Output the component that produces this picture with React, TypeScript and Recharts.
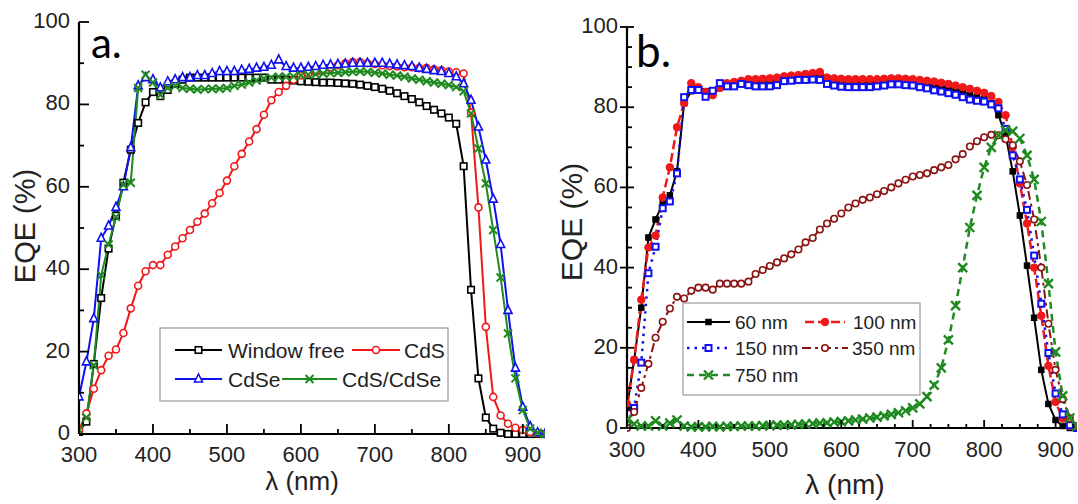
import { LineChart, Line, XAxis, YAxis } from 'recharts'

const wavelengths = [
  300, 310, 320, 330, 340, 350, 360, 370, 380, 390,
  400, 410, 420, 430, 440, 450, 460, 470, 480, 490,
  500, 510, 520, 530, 540, 550, 560, 570, 580, 590,
  600, 610, 620, 630, 640, 650, 660, 670, 680, 690,
  700, 710, 720, 730, 740, 750, 760, 770, 780, 790,
  800, 810, 820, 830, 840, 850, 860, 870, 880, 890,
  900, 910, 920, 930,
]

// panel a
const windowFree = [
  0.5, 3, 17, 33, 45, 53, 61, 69, 75.5, 80.5,
  83, 82, 83.5, 85, 86, 86.5, 86.5, 86.5, 86.5, 86.5,
  86.5, 86.5, 86.5, 86.5, 86.5, 86.5, 86, 86, 86, 85.8,
  85.6, 85.5, 85.4, 85.3, 85.3, 85.2, 85.1, 85, 84.8, 84.5,
  84.2, 83.8, 83.3, 82.7, 82, 81.3, 80.5, 79.6, 78.7, 77.8,
  76.8, 75.3, 65, 35, 13.5, 4, 1.3, 0.3, 0, 0,
  0, 0, 0, 0,
]
const cds = [
  1, 5, 11, 15.5, 19, 20.5, 24.5, 30.5, 36, 39.5,
  41, 41, 43.5, 45.5, 47.5, 49.5, 51.5, 53.5, 56, 58.5,
  61.5, 65, 68, 71, 74, 77.5, 81, 83, 84.5, 86,
  87, 87.5, 88, 88.5, 89, 89.5, 90, 90.3, 90.3, 90,
  89.8, 89.5, 89.3, 89.2, 89, 89, 88.8, 88.8, 88.5, 88.3,
  88, 87.8, 87.5, 78, 55, 26, 9, 4.5, 2.5, 1.5,
  1, 0.5, 0.2, 0,
]
const cdse = [
  9, 17.5, 28, 47.5, 50.5, 55, 60, 69.5, 84.5, 86.5,
  86, 84, 85.5, 86, 86.5, 86.5, 87, 87, 87.5, 88,
  88, 88, 88.3, 88.5, 88.8, 89, 89.5, 90.8, 89.2, 88.8,
  88.8, 89, 89.2, 89.5, 89.6, 89.7, 89.8, 90, 90, 90,
  90, 90, 89.8, 89.6, 89.4, 89.2, 88.8, 88.5, 88.2, 88,
  87.5, 86.7, 85, 81, 74.5, 66.5, 57, 46, 30, 16,
  6.5, 1.8, 0.3, 0,
]
const cdsCdse = [
  1, 4, 16.7, 38.5, 46, 52.7, 60.5, 61, 84, 87.2,
  85.3, 82.3, 84, 84.5, 84, 83.8, 83.6, 83.7, 83.8, 83.8,
  84, 84.5, 84.8, 85.3, 85.8, 86.3, 86.5, 86.7, 86.7, 86.8,
  87, 87.2, 87.3, 87.5, 87.6, 87.7, 87.8, 87.9, 88, 87.9,
  87.7, 87.5, 87.2, 87, 86.7, 86.3, 86, 85.6, 85.3, 85,
  84.7, 84.2, 83.2, 77.8, 69.3, 60.8, 49.5, 38, 24.4, 13.5,
  5.8, 1.3, 0.3, 0,
]

// panel b
const nm60 = [
  5, 17, 30, 47.5, 52, 56, 58, 64, 81, 84,
  84.5, 84, 84, 85, 85.5, 85.5, 86, 86.3, 86.5, 86.5,
  86.7, 86.8, 87, 87.2, 87.4, 87.6, 87.8, 88, 87, 86.8,
  86.7, 86.6, 86.5, 86.4, 86.3, 86.3, 86.2, 86.3, 86.5, 86.4,
  86.2, 86, 85.8, 85.5, 85.2, 84.8, 84.3, 83.8, 83.2, 82.6,
  82, 81, 78, 73, 64, 53, 40.5, 27.5, 14.5, 6,
  2, 0.5, 0, 0,
]
const nm100 = [
  6, 17, 32, 45, 48, 57.5, 65, 75, 81, 86,
  85, 83.8, 83, 84.8, 86, 86.3, 86.6, 87, 87, 87.1,
  87.2, 87.4, 87.7, 87.9, 88, 88.3, 88.5, 88.8, 87.4, 87.2,
  87.1, 87, 87, 87, 87, 87, 87.1, 87.2, 87.2, 87.1,
  87, 86.8, 86.6, 86.4, 86.1, 85.8, 85.4, 85, 84.6, 84.1,
  83.6, 82.8, 81.3, 78, 70, 61, 51, 40, 28, 15.5,
  6.5, 2.4, 0.5, 0,
]
const nm150 = [
  1, 5, 16.3, 38.6, 45.2, 54.8, 56.5, 63.5, 82.5, 84.3,
  84.3, 82.6, 84.1, 86, 85.2, 85.2, 85.8, 85.5, 85.2, 85.2,
  85.2, 85.5, 86.5, 86.6, 86.8, 86.8, 86.9, 86.8, 85.8, 85.4,
  85.1, 85, 85, 85, 85, 85.2, 85.4, 85.7, 85.7, 85.5,
  85.4, 85, 84.7, 84.2, 83.9, 83.5, 83.1, 82.5, 81.9, 81.6,
  81.4, 80.7, 79.7, 74.6, 68, 62, 54.4, 43, 31, 18.7,
  8.6, 3.4, 0.7, 0,
]
const nm350 = [
  0, 4, 10, 16, 22.5, 26.5, 29.8, 32.7, 32.3, 34.2,
  35, 35, 34.5, 36, 36, 36, 36, 36.5, 38.4, 39.4,
  40.4, 41.3, 42.3, 43.3, 44.5, 46.3, 47.4, 49.5, 51, 52.2,
  53.5, 55, 56, 56.9, 57.5, 58.3, 59.1, 60, 61, 61.9,
  62.7, 63.1, 63.5, 64.3, 65, 65.6, 67, 68.3, 70.2, 71.5,
  72.5, 73.1, 73, 72, 70.5, 66.5, 60.6, 52, 40, 26,
  14.5, 7.2, 2.4, 0.5,
]
const nm750 = [
  2, 1, 0.5, 0.5, 1.8, 0.5, 1.2, 2, 0.5, 0.3,
  0.3, 0.3, 0.4, 0.3, 0.4, 0.4, 0.5, 0.5, 0.5, 0.6,
  0.6, 0.7, 0.7, 0.8, 0.9, 1, 1.1, 1.2, 1.3, 1.5,
  1.6, 1.8, 2, 2.2, 2.5, 2.7, 3, 3.4, 3.8, 4.3,
  5, 6, 7.8, 10.7, 15, 22, 30.5, 40, 50, 58,
  65, 70, 73, 74.3, 74, 72.2, 68, 62, 51.5, 36,
  19, 8, 2.5, 0.5,
]

const ticksXA = [300, 350, 400, 450, 500, 550, 600, 650, 700, 750, 800, 850, 900]
const ticksYA = [0, 10, 20, 30, 40, 50, 60, 70, 80, 90, 100]
const ticksXB = [300, 325, 350, 375, 400, 425, 450, 475, 500, 525, 550, 575, 600, 625, 650, 675, 700, 725, 750, 775, 800, 825, 850, 875, 900, 925]
const ticksYB = [0, 5, 10, 15, 20, 25, 30, 35, 40, 45, 50, 55, 60, 65, 70, 75, 80, 85, 90, 95, 100]

const dataA = wavelengths.map((w, i) => ({ w, free: windowFree[i], cds: cds[i], cdse: cdse[i], both: cdsCdse[i] }))
const dataB = wavelengths.map((w, i) => ({ w, a: nm60[i], b: nm100[i], c: nm150[i], d: nm350[i], e: nm750[i] }))

const FONT = '"Liberation Sans", Arial, sans-serif'
const RED = '#f01818'
const BLUE = '#1010f0'
const GREEN = '#1f8a1f'
const DARKRED = '#8a1414'

type Kind = 'square' | 'circle' | 'triangle' | 'cross'

function marker(kind: Kind, cx: number, cy: number, size: number, color: string, filled: boolean, sw: number) {
  const h = size / 2
  const fill = filled ? color : '#fff'
  if (kind === 'square') return <rect x={cx - h} y={cy - h} width={size} height={size} fill={fill} stroke={color} strokeWidth={sw} />
  if (kind === 'circle') return <circle cx={cx} cy={cy} r={h} fill={fill} stroke={color} strokeWidth={sw} />
  if (kind === 'triangle')
    return <polygon points={`${cx},${cy - h - 1} ${cx - h},${cy + h - 1} ${cx + h},${cy + h - 1}`} fill={fill} stroke={color} strokeWidth={sw} />
  return (
    <g stroke={color} strokeWidth={sw}>
      <line x1={cx - h} y1={cy - h} x2={cx + h} y2={cy + h} />
      <line x1={cx - h} y1={cy + h} x2={cx + h} y2={cy - h} />
    </g>
  )
}

function dot(kind: Kind, size: number, color: string, filled: boolean, sw: number) {
  return (props: any) => {
    const { cx, cy, index } = props
    if (cx == null || cy == null) return <g key={`e-${index}`} />
    return <g key={`d-${index}`}>{marker(kind, cx, cy, size, color, filled, sw)}</g>
  }
}

// inward ticks drawn by hand, labels only on the major ones
function tickBottom(major: number, big: number, small: number, dy: number) {
  return (props: any) => {
    const { x, y, payload } = props
    const isMajor = payload.value % major === 0
    return (
      <g>
        <line x1={x} x2={x} y1={y} y2={y - (isMajor ? big : small)} stroke="#000" strokeWidth={1.8} />
        {isMajor && (
          <text x={x} y={y + dy} textAnchor="middle" fontSize={22} fill="#222" fontFamily={FONT}>{payload.value}</text>
        )}
      </g>
    )
  }
}
function tickTop(major: number, big: number, small: number) {
  return (props: any) => {
    const { x, y, payload } = props
    const isMajor = payload.value % major === 0
    return <line x1={x} x2={x} y1={y} y2={y + (isMajor ? big : small)} stroke="#000" strokeWidth={1.8} />
  }
}
function tickLeft(major: number, big: number, small: number, out: number) {
  return (props: any) => {
    const { x, y, payload } = props
    const isMajor = payload.value % major === 0
    return (
      <g>
        <line x1={x - (isMajor ? out : 0)} x2={x + (isMajor ? big : small)} y1={y} y2={y} stroke="#000" strokeWidth={1.8} />
        {isMajor && (
          <text x={x - 9} y={y + 6} textAnchor="end" fontSize={22} fill="#222" fontFamily={FONT}>{payload.value}</text>
        )}
      </g>
    )
  }
}
function tickRight(major: number, big: number, small: number) {
  return (props: any) => {
    const { x, y, payload } = props
    const isMajor = payload.value % major === 0
    return <line x1={x} x2={x - (isMajor ? big : small)} y1={y} y2={y} stroke="#000" strokeWidth={1.8} />
  }
}

const axisLine = { stroke: '#000', strokeWidth: 2.2 }

function LegendRow({ x1, x2, y, kind, size, color, filled, sw, dash, lw, text, tx, fs }: any) {
  return (
    <g>
      <line x1={x1} x2={x2} y1={y} y2={y} stroke={color} strokeWidth={lw} strokeDasharray={dash} />
      {marker(kind, (x1 + x2) / 2, y, size, color, filled, sw)}
      <text x={tx} y={y + fs * 0.36} fontSize={fs} fill="#222" fontFamily={FONT}>{text}</text>
    </g>
  )
}

export default function App() {
  return (
    <div style={{ position: 'absolute', left: 0, top: 0, width: 1078, height: 504, background: '#fff', overflow: 'hidden' }}>
      <div style={{ position: 'absolute', left: 0, top: 0 }}>
        <LineChart width={560} height={504} data={dataA} margin={{ top: 22, right: 15, left: 0, bottom: 0 }}>
          <XAxis dataKey="w" type="number" domain={[300, 930]} ticks={ticksXA} interval={0} allowDataOverflow
            height={70} tickSize={0} tickMargin={0} tickLine={false} axisLine={axisLine} tick={tickBottom(100, 10, 5, 28)} />
          <XAxis xAxisId="top" orientation="top" dataKey="w" type="number" domain={[300, 930]} ticks={ticksXA} interval={0}
            height={0} tickSize={0} tickMargin={0} tickLine={false} axisLine={axisLine} tick={tickTop(100, 10, 5)} />
          <YAxis type="number" domain={[0, 100]} ticks={ticksYA} interval={0} width={79}
            tickSize={0} tickMargin={0} tickLine={false} axisLine={axisLine} tick={tickLeft(20, 10, 5, 0)} />
          <YAxis yAxisId="right" orientation="right" type="number" domain={[0, 100]} ticks={ticksYA} interval={0} width={0}
            tickSize={0} tickMargin={0} tickLine={false} axisLine={axisLine} tick={tickRight(20, 10, 5)} />
          <Line dataKey="free" type="linear" stroke="#000" strokeWidth={2} dot={dot('square', 6.5, '#000', false, 1.6)} isAnimationActive={false} />
          <Line dataKey="cds" type="linear" stroke={RED} strokeWidth={2} dot={dot('circle', 7, RED, false, 1.6)} isAnimationActive={false} />
          <Line dataKey="cdse" type="linear" stroke={BLUE} strokeWidth={2} dot={dot('triangle', 8, BLUE, false, 1.6)} isAnimationActive={false} />
          <Line dataKey="both" type="linear" stroke={GREEN} strokeWidth={2} dot={dot('cross', 8, GREEN, false, 2)} isAnimationActive={false} />
        </LineChart>
      </div>
      <div style={{ position: 'absolute', left: 550, top: 0 }}>
        <LineChart width={528} height={504} data={dataB} margin={{ top: 27, right: 1, left: 0, bottom: 0 }}>
          <XAxis dataKey="w" type="number" domain={[300, 930]} ticks={ticksXB} interval={0} allowDataOverflow
            height={76} tickSize={0} tickMargin={0} tickLine={false} axisLine={axisLine} tick={tickBottom(100, 8, 4, 29)} />
          <XAxis xAxisId="top" orientation="top" dataKey="w" type="number" domain={[300, 930]} ticks={ticksXB} interval={0}
            height={0} tickSize={0} tickMargin={0} tickLine={false} axisLine={axisLine} tick={tickTop(100, 8, 4)} />
          <YAxis type="number" domain={[0, 100]} ticks={ticksYB} interval={0} width={77}
            tickSize={0} tickMargin={0} tickLine={false} axisLine={axisLine} tick={tickLeft(20, 7, 5, 7)} />
          <YAxis yAxisId="right" orientation="right" type="number" domain={[0, 100]} ticks={ticksYB} interval={0} width={0}
            tickSize={0} tickMargin={0} tickLine={false} axisLine={axisLine} tick={tickRight(20, 7, 5)} />
          <Line dataKey="a" type="linear" stroke="#000" strokeWidth={2} dot={dot('square', 5.5, '#000', true, 1)} isAnimationActive={false} />
          <Line dataKey="b" type="linear" stroke={RED} strokeWidth={2.5} strokeDasharray="9 4" dot={dot('circle', 7.5, RED, true, 1)} isAnimationActive={false} />
          <Line dataKey="c" type="linear" stroke={BLUE} strokeWidth={2.5} strokeDasharray="2.5 5" dot={dot('square', 6, BLUE, false, 2)} isAnimationActive={false} />
          <Line dataKey="d" type="linear" stroke={DARKRED} strokeWidth={2} strokeDasharray="9 4 3 4" dot={dot('circle', 6.5, DARKRED, false, 1.6)} isAnimationActive={false} />
          <Line dataKey="e" type="linear" stroke={GREEN} strokeWidth={2.5} strokeDasharray="7 5" dot={dot('cross', 9, GREEN, false, 2.4)} isAnimationActive={false} />
        </LineChart>
      </div>
      <svg width={1078} height={504} style={{ position: 'absolute', left: 0, top: 0, pointerEvents: 'none' }}>
        <text x={91} y={58} fontSize={42} fontFamily="Lato, 'Open Sans', sans-serif" fill="#000">a.</text>
        <text x={636} y={67} fontSize={44} fontFamily="Lato, 'Open Sans', sans-serif" fill="#000">b.</text>

        <text transform="translate(35,226) rotate(-90)" textAnchor="middle" fontSize={29} fill="#222" fontFamily={FONT}>EQE (%)</text>
        <text transform="translate(582,222) rotate(-90)" textAnchor="middle" fontSize={30} fill="#222" fontFamily={FONT}>EQE (%)</text>
        <text x={302} y={490} textAnchor="middle" fontSize={26} fill="#222" fontFamily={FONT}>λ (nm)</text>
        <text x={845} y={494} textAnchor="middle" fontSize={28} fill="#222" fontFamily={FONT}>λ (nm)</text>

        <rect x={160} y={328} width={288} height={73} fill="#fff" stroke="#999" strokeWidth={1.2} />
        <LegendRow x1={175} x2={222} y={350} kind="square" size={6.5} color="#000" filled={false} sw={1.6} lw={2} text="Window free" tx={228} fs={21} />
        <LegendRow x1={352} x2={400} y={350} kind="circle" size={7} color={RED} filled={false} sw={1.6} lw={2} text="CdS" tx={404} fs={21} />
        <LegendRow x1={175} x2={222} y={379} kind="triangle" size={8} color={BLUE} filled={false} sw={1.6} lw={2} text="CdSe" tx={228} fs={21} />
        <LegendRow x1={282} x2={337} y={379} kind="cross" size={8} color={GREEN} filled={false} sw={2} lw={2} text="CdS/CdSe" tx={342} fs={21} />

        <rect x={683} y={303} width={237} height={92} fill="#fff" stroke="#999" strokeWidth={1.2} />
        <LegendRow x1={687} x2={730} y={322} kind="square" size={5.5} color="#000" filled sw={1} lw={2} text="60 nm" tx={735} fs={19} />
        <LegendRow x1={805} x2={845} y={322} kind="circle" size={7.5} color={RED} filled sw={1} lw={2.5} dash="9 4" text="100 nm" tx={853} fs={19} />
        <LegendRow x1={687} x2={730} y={348} kind="square" size={6} color={BLUE} filled={false} sw={2} lw={2.5} dash="2.5 5" text="150 nm" tx={735} fs={19} />
        <LegendRow x1={802} x2={848} y={348} kind="circle" size={6.5} color={DARKRED} filled={false} sw={1.6} lw={2} dash="9 4 3 4" text="350 nm" tx={852} fs={19} />
        <LegendRow x1={687} x2={730} y={375} kind="cross" size={9} color={GREEN} filled={false} sw={2.4} lw={2.5} dash="7 5" text="750 nm" tx={735} fs={19} />
      </svg>
    </div>
  )
}
